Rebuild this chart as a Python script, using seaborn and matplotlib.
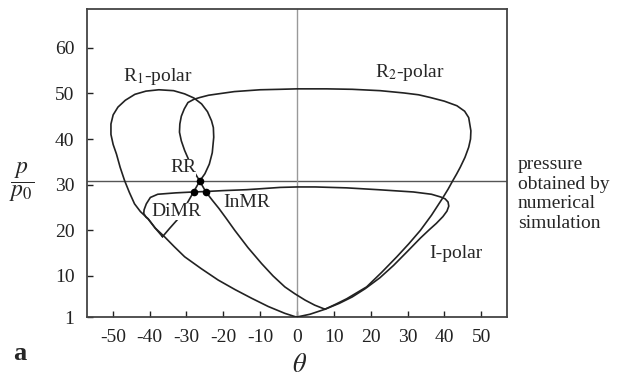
import matplotlib
matplotlib.use("Agg")
import matplotlib.pyplot as plt
import seaborn as sns
import pandas as pd

# ---- data (theta in degrees, p/p0) ----
i_theta = [0.0, 3.5, 7.6, 11.5, 15.0, 18.5, 22.5, 26.2, 30.0, 33.5, 36.0, 37.8, 39.6, 40.7, 41.2, 41.0, 40.2,
           39.0, 36.5, 31.6, 22.0, 13.5, 5.0, 0.0, -4.6, -10.0, -13.7, -20.0, -24.8, -28.2, -33.0, -37.8,
           -39.8, -40.9, -41.5, -41.6, -41.0, -40.4, -38.5, -36.1, -33.3, -30.5, -26.0, -21.4, -16.8,
           -12.3, -7.8, -3.3, -0.5, 0.0]
i_p = [1.0, 1.6, 2.7, 4.0, 5.4, 7.2, 9.6, 12.3, 15.4, 18.3, 20.2, 21.5, 23.0, 24.2, 25.3, 26.2, 26.9,
       27.3, 27.9, 28.4, 28.9, 29.3, 29.5, 29.5, 29.4, 29.1, 28.9, 28.7, 28.5, 28.4, 28.2, 27.9,
       27.2, 25.8, 24.5, 23.7, 22.9, 22.5, 20.5, 18.7, 16.4, 14.2, 11.6, 9.1, 7.0,
       5.1, 3.3, 1.8, 1.07, 1.0]

r1_theta = [-36.5, -34.6, -32.4, -30.2, -28.0, -26.4, -25.0, -23.8, -23.0, -22.6, -22.7, -23.2, -24.3,
            -25.9, -28.0, -30.5, -33.5, -37.5, -41.0, -44.0, -46.6, -48.6, -49.9, -50.5, -50.5, -49.9,
            -49.0, -48.0, -46.8, -45.5, -44.1, -42.5, -40.4, -38.5, -36.5]
r1_p = [18.6, 20.4, 22.4, 25.4, 28.5, 30.8, 32.4, 34.5, 37.0, 40.4, 42.5, 44.0, 46.0,
        47.7, 49.0, 49.9, 50.6, 50.8, 50.5, 49.8, 48.5, 47.0, 45.3, 43.3, 41.0, 38.8,
        36.7, 33.8, 30.9, 28.3, 25.8, 24.1, 22.5, 20.5, 18.6]

r2_theta = [7.6, 4.8, 2.2, -0.6, -3.3, -6.5, -9.6, -13.3, -16.9, -19.2, -21.2, -23.0, -24.8, -26.4,
            -27.9, -29.1, -30.5, -31.4, -31.9, -31.8, -31.4, -30.6, -29.6, -28.0, -26.4, -24.0, -21.4,
            -17.0, -10.0, -4.6, 0.0, 8.0, 15.0, 22.6, 29.0, 33.0, 36.2, 40.0, 43.4, 45.5, 46.6, 47.2,
            47.1, 46.6, 45.6, 44.3, 43.3, 42.3, 41.0, 39.4, 36.5, 33.5, 30.3, 27.1, 23.0, 18.9, 13.5,
            10.5, 7.6]
r2_p = [2.7, 3.6, 4.7, 6.1, 7.6, 10.0, 12.7, 16.2, 20.0, 22.6, 24.8, 26.6, 28.5, 30.8,
        32.8, 34.9, 37.5, 39.6, 41.5, 43.3, 45.0, 46.6, 48.0, 48.7, 49.1, 49.6, 49.9,
        50.4, 50.8, 50.9, 51.0, 51.0, 50.9, 50.6, 50.1, 49.7, 49.1, 48.3, 47.3, 46.1, 44.7, 41.8,
        40.0, 38.2, 36.0, 33.8, 32.3, 30.9, 29.0, 26.9, 23.3, 20.0, 17.0, 14.2, 10.8, 7.6, 5.0,
        3.8, 2.7]

pt_names = ["RR", "DiMR", "InMR"]
pt_theta = [-26.4, -28.0, -24.8]
pt_p = [30.8, 28.5, 28.5]

sim_pressure = 30.9
x_ticks = [-50, -40, -30, -20, -10, 0, 10, 20, 30, 40, 50]
y_ticks = [1, 10, 20, 30, 40, 50, 60]

# ---- style ----
sns.set_theme(style="white")
plt.rcParams["font.family"] = ["Liberation Serif", "DejaVu Serif"]
plt.rcParams["mathtext.fontset"] = "stix"

fig = plt.figure(figsize=(6.2, 3.81), dpi=100)
ax = fig.add_axes([87 / 620, 1 - 317 / 381, (507 - 87) / 620, (317 - 9) / 381])

ax.axhline(sim_pressure, color="#555555", lw=1.0, zorder=1)
ax.axvline(0, color="#999999", lw=1.0, zorder=1)

for th, pp in [(i_theta, i_p), (r1_theta, r1_p), (r2_theta, r2_p)]:
    df = pd.DataFrame({"theta": th, "p": pp})
    sns.lineplot(data=df, x="theta", y="p", sort=False, estimator=None,
                 color="#222222", lw=1.2, ax=ax, zorder=3)

sns.scatterplot(x=pt_theta, y=pt_p, color="black", s=30, edgecolor="black",
                linewidth=0, ax=ax, zorder=6)

ax.set_xlim(-57, 57)
ax.set_ylim(1, 68.5)
ax.set_xticks(x_ticks)
ax.set_xticklabels([str(t) for t in x_ticks])
ax.set_yticks(y_ticks)
ax.set_yticklabels([str(t) for t in y_ticks])
ax.tick_params(direction="in", length=4, width=1, labelsize=14, pad=9,
               bottom=True, left=True, top=False, right=False, colors="#222222")
ax.set_xlabel("")
ax.set_ylabel("")
for s in ax.spines.values():
    s.set_color("#444444")
    s.set_linewidth(1.3)

fs = 14
box = dict(facecolor="white", edgecolor="none", pad=0.0)
ax.text(-37.8, 53.6, "R$_1$-polar", ha="center", va="center", fontsize=fs)
ax.text(30.7, 54.6, "R$_2$-polar", ha="center", va="center", fontsize=fs)
ax.text(-30.9, 33.7, "RR", ha="center", va="center", fontsize=fs, bbox=box, zorder=5)
ax.text(-32.8, 24.2, "DiMR", ha="center", va="center", fontsize=fs, bbox=box, zorder=5)
ax.text(-13.7, 26.2, "InMR", ha="center", va="center", fontsize=fs)
ax.text(43.0, 14.9, "I-polar", ha="center", va="center", fontsize=fs)

fig.text(518 / 620, 1 - 194 / 381, "pressure\nobtained by\nnumerical\nsimulation",
         ha="left", va="center", fontsize=fs, linespacing=1.2)
fig.text(300 / 620, 1 - 366 / 381, r"$\theta$", ha="center", va="center", fontsize=19)
fig.text(22 / 620, 1 - 182 / 381, r"$\dfrac{p}{p_0}$", ha="center", va="center", fontsize=17)
fig.text(20 / 620, 1 - 353 / 381, "a", ha="center", va="center", fontsize=19, fontweight="bold")

fig.savefig("out.png", dpi=100)
